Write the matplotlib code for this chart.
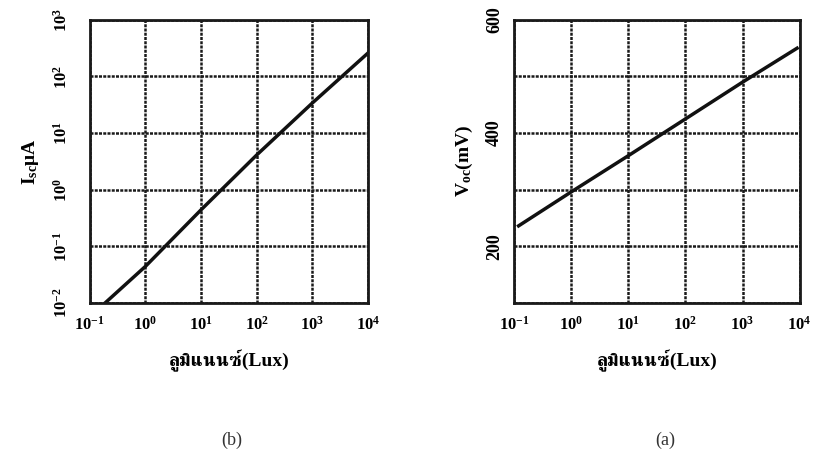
import matplotlib
matplotlib.use("Agg")
import matplotlib.pyplot as plt
from matplotlib import font_manager
from matplotlib.ft2font import FT2Font
from matplotlib.ticker import FixedLocator, NullFormatter

# Data
lux_isc = [0.19, 1, 10, 100, 1000, 10000]
isc_uA = [0.01, 0.044, 0.44, 4.1, 34, 260]
lux_voc = [0.12, 1, 10, 100, 1000, 9000]
voc_mV = [236, 296, 360, 425, 490, 550]

x_ticks = [0.1, 1, 10, 100, 1000, 10000]
x_ticklabels = ["$10^{-1}$", "$10^{0}$", "$10^{1}$", "$10^{2}$", "$10^{3}$", "$10^{4}$"]
isc_ticks = [0.01, 0.1, 1, 10, 100, 1000]
isc_ticklabels = ["$10^{-2}$", "$10^{-1}$", "$10^{0}$", "$10^{1}$", "$10^{2}$", "$10^{3}$"]
voc_ticks = [200, 400, 600]
voc_grid = [100, 300, 500]
xlabel = "ลูมิแนนซ์(Lux)"


def find_thai_families():
    fams = []
    for f in font_manager.fontManager.ttflist:
        try:
            ft = FT2Font(f.fname)
            if all(ft.get_char_index(ord(c)) != 0 for c in "ลูมิแนนซ์"):
                if f.name not in fams:
                    fams.append(f.name)
        except Exception:
            pass
    fams.sort(key=lambda n: (0 if "Serif" in n else 1, 0 if "Looped" in n else 1, n))
    return fams


thai_fams = find_thai_families()
fonts = ["Liberation Serif"] + thai_fams + ["DejaVu Serif", "DejaVu Sans"]

plt.rcParams["font.family"] = fonts
plt.rcParams["mathtext.fontset"] = "custom"
plt.rcParams["mathtext.rm"] = "Liberation Serif:bold"
plt.rcParams["mathtext.it"] = "Liberation Serif:bold"
plt.rcParams["mathtext.bf"] = "Liberation Serif:bold"
plt.rcParams["mathtext.default"] = "regular"

fig = plt.figure(figsize=(8.16, 4.63), dpi=100)
ax1 = fig.add_axes([0.110, 0.346, 0.341, 0.611])
ax2 = fig.add_axes([0.630, 0.346, 0.350, 0.611])

grid_kw = dict(color="#1a1a1a", linewidth=1.8, linestyle=(0, (1.2, 0.5)))

for ax in (ax1, ax2):
    ax.set_xscale("log")
    ax.set_xlim(0.1, 10000)
    ax.xaxis.set_major_locator(FixedLocator(x_ticks))
    ax.xaxis.set_minor_locator(FixedLocator([]))
    ax.set_xticklabels(x_ticklabels, fontsize=12, fontweight="bold")
    ax.tick_params(axis="x", length=0, pad=9)
    ax.tick_params(axis="y", length=0)
    for s in ax.spines.values():
        s.set_linewidth(2.0)
        s.set_color("#1a1a1a")

ax1.set_yscale("log")
ax1.set_ylim(0.01, 1000)
ax1.yaxis.set_major_locator(FixedLocator(isc_ticks))
ax1.yaxis.set_minor_locator(FixedLocator([]))
ax1.set_yticklabels(isc_ticklabels, fontsize=12, fontweight="bold", rotation=90, va="center")
ax1.tick_params(axis="y", pad=14)
ax1.grid(True, which="major", **grid_kw)
ax1.plot(lux_isc, isc_uA, color="#111111", linewidth=2.5)
ax1.set_ylabel("I$_{sc}$μA", fontsize=14, fontweight="bold", labelpad=8)
ax1.set_xlabel(xlabel, fontsize=14, fontweight="bold", labelpad=12)

ax2.set_ylim(100, 600)
ax2.yaxis.set_major_locator(FixedLocator(voc_ticks))
ax2.yaxis.set_minor_locator(FixedLocator(voc_grid))
ax2.yaxis.set_minor_formatter(NullFormatter())
ax2.set_yticklabels([str(v) for v in voc_ticks], fontsize=13, fontweight="bold", rotation=90, va="center")
ax2.tick_params(axis="y", pad=8)
ax2.tick_params(which="minor", length=0)
ax2.grid(True, which="both", **grid_kw)
ax2.plot(lux_voc, voc_mV, color="#111111", linewidth=2.5)
ax2.set_ylabel("V$_{oc}$(mV)", fontsize=14, fontweight="bold", labelpad=8)
ax2.set_xlabel(xlabel, fontsize=14, fontweight="bold", labelpad=12)

fig.text(0.284, 0.05, "(b)", ha="center", va="center", fontsize=13, color="#333333")
fig.text(0.815, 0.05, "(a)", ha="center", va="center", fontsize=13, color="#333333")

fig.savefig("out.png", dpi=100, facecolor="white")
